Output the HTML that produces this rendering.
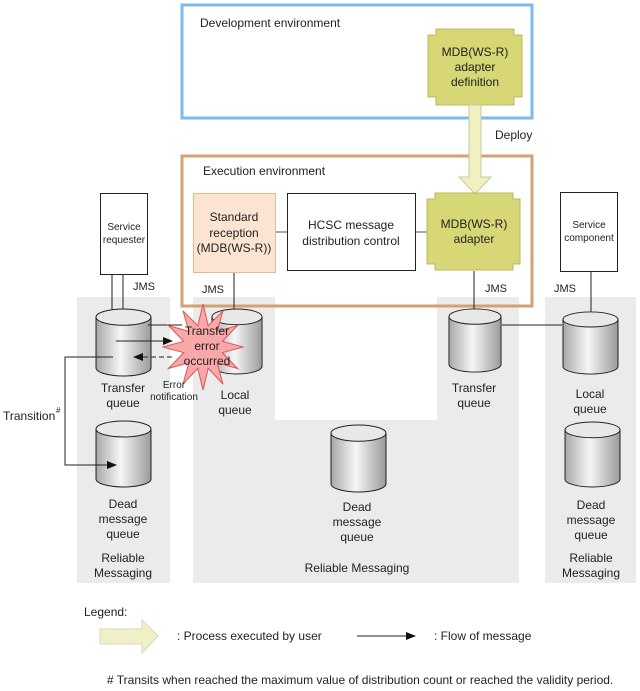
<!DOCTYPE html>
<html><head><meta charset="utf-8"><style>
html,body{margin:0;padding:0;background:#fff}
svg{display:block;font-family:"Liberation Sans",Arial,sans-serif}
text{fill:#222}
</style></head><body>
<svg width="640" height="691" viewBox="0 0 640 691" xmlns="http://www.w3.org/2000/svg">
<defs>
<linearGradient id="cg" x1="0" x2="1" y1="0" y2="0">
<stop offset="0" stop-color="#a8a8a8"/><stop offset="0.45" stop-color="#f6f6f6"/><stop offset="1" stop-color="#9a9a9a"/>
</linearGradient>
<marker id="ah" markerWidth="10" markerHeight="8" refX="9" refY="4" orient="auto" markerUnits="userSpaceOnUse">
<path d="M0,0 L10,4 L0,8 z" fill="#111"/></marker>
<symbol id="cyl" viewBox="0 0 56 68" preserveAspectRatio="none">
<path d="M1,9 L1,59 A27,8 0 0 0 55,59 L55,9" fill="url(#cg)" stroke="#222" stroke-width="1"/>
<ellipse cx="28" cy="9" rx="27" ry="8" fill="#e8e8e8" stroke="#222" stroke-width="1"/>
</symbol>
</defs>

<rect x="77" y="297" width="93" height="286" fill="#ebebeb"/>
<path d="M193,297 H275 V420 H437 V297 H519 V583 H193 Z" fill="#ebebeb"/>
<rect x="545" y="297" width="91" height="286" fill="#ebebeb"/>

<rect x="182" y="5" width="350" height="113" fill="none" stroke="#7db9ee" stroke-width="3"/>
<text x="200" y="27" font-size="12">Development environment</text>
<path d="M436,29 H514 V35 H522 V97 H514 V105 H436 V97 H428 V35 H436 Z" fill="#d7d775" stroke="#b9b962"/>
<text x="475" y="56" font-size="12" text-anchor="middle">MDB(WS-R)</text>
<text x="475" y="71" font-size="12" text-anchor="middle">adapter</text>
<text x="475" y="86" font-size="12" text-anchor="middle">definition</text>

<rect x="182" y="156" width="350" height="150" fill="none" stroke="#d4a272" stroke-width="3"/>
<text x="203" y="175" font-size="12">Execution environment</text>

<path d="M469,105 H481 V177 H491 L475,194 L459,177 H469 Z" fill="#f0f0c0" stroke="#c8c8a0"/>
<text x="495" y="139" font-size="12">Deploy</text>

<rect x="193.5" y="193.5" width="82" height="79" fill="#fbe5d2" stroke="#e2bb94"/>
<text x="234" y="221" font-size="12" text-anchor="middle">Standard</text>
<text x="234" y="237" font-size="12" text-anchor="middle">reception</text>
<text x="234" y="252" font-size="12" text-anchor="middle">(MDB(WS-R))</text>
<line x1="276" y1="232" x2="287" y2="232" stroke="#555"/>
<rect x="287.5" y="193.5" width="128" height="77" fill="#fff" stroke="#222"/>
<text x="351" y="229" font-size="12" text-anchor="middle">HCSC message</text>
<text x="351" y="245" font-size="12" text-anchor="middle">distribution control</text>
<line x1="416" y1="232" x2="428" y2="232" stroke="#555"/>
<path d="M435,193 H513 V199 H520 V264 H513 V270 H435 V264 H427 V199 H435 Z" fill="#d7d775" stroke="#b9b962"/>
<text x="474" y="228" font-size="12" text-anchor="middle">MDB(WS-R)</text>
<text x="474" y="243" font-size="12" text-anchor="middle">adapter</text>

<rect x="100.5" y="193.5" width="47" height="81" fill="#fff" stroke="#222"/>
<text x="124" y="230" font-size="10" text-anchor="middle">Service</text>
<text x="124" y="243" font-size="10" text-anchor="middle">requester</text>
<rect x="560.5" y="192.5" width="57" height="79" fill="#fff" stroke="#222"/>
<text x="589" y="228" font-size="10" text-anchor="middle">Service</text>
<text x="589" y="241" font-size="10" text-anchor="middle">component</text>

<line x1="112" y1="275" x2="112" y2="332" stroke="#222" marker-end="url(#ah)"/>
<line x1="123" y1="275" x2="123" y2="310" stroke="#222"/>
<text x="133" y="290" font-size="11">JMS</text>
<line x1="234" y1="273" x2="234" y2="310" stroke="#222"/>
<text x="202" y="293" font-size="11">JMS</text>
<line x1="474" y1="271" x2="474" y2="310" stroke="#222"/>
<text x="485" y="292" font-size="11">JMS</text>
<line x1="591" y1="272" x2="591" y2="314" stroke="#222"/>
<text x="554" y="292" font-size="11">JMS</text>

<use href="#cyl" x="95" y="308" width="57" height="69"/>
<use href="#cyl" x="211" y="308" width="52" height="67"/>
<use href="#cyl" x="448" y="308" width="54" height="65"/>
<use href="#cyl" x="562" y="311" width="57" height="64"/>
<use href="#cyl" x="95" y="420" width="57" height="68"/>
<use href="#cyl" x="330" y="424" width="57" height="69"/>
<use href="#cyl" x="564" y="421" width="57" height="67"/>

<line x1="502" y1="325" x2="562" y2="325" stroke="#222"/>

<line x1="148" y1="325" x2="182" y2="325" stroke="#222"/>
<polygon points="203,304 208.2,325.7 223,310.8 217.1,331.4 237.6,325.5 222.3,341.3 243,347 222.3,352.7 237.6,368.5 217.1,362.6 223,384.2 208.2,368.3 203,390 197.8,368.3 183,384.2 188.9,362.6 168.4,368.5 183.7,352.7 163,347 183.7,341.3 168.4,325.5 188.9,331.4 183,310.8 197.8,325.7" fill="#f8a8a8" stroke="#d55"/>

<line x1="116" y1="341" x2="172" y2="341" stroke="#222" marker-end="url(#ah)"/>
<line x1="172" y1="357" x2="134" y2="357" stroke="#222" stroke-dasharray="5,3" marker-end="url(#ah)"/>
<text x="207" y="335" font-size="12" text-anchor="middle">Transfer</text>
<text x="207" y="350" font-size="12" text-anchor="middle">error</text>
<text x="207" y="365" font-size="12" text-anchor="middle">occurred</text>
<text x="174" y="388" font-size="10" text-anchor="middle">Error</text>
<text x="174" y="400" font-size="10" text-anchor="middle">notification</text>

<text x="123" y="392" font-size="12" text-anchor="middle">Transfer</text>
<text x="123" y="407" font-size="12" text-anchor="middle">queue</text>
<text x="235" y="399" font-size="12" text-anchor="middle">Local</text>
<text x="235" y="414" font-size="12" text-anchor="middle">queue</text>
<text x="474" y="392" font-size="12" text-anchor="middle">Transfer</text>
<text x="474" y="407" font-size="12" text-anchor="middle">queue</text>
<text x="590" y="398" font-size="12" text-anchor="middle">Local</text>
<text x="590" y="413" font-size="12" text-anchor="middle">queue</text>

<polyline points="113,357 65,357 65,465 116,465" fill="none" stroke="#222" marker-end="url(#ah)"/>
<text x="3" y="420" font-size="12">Transition</text>
<text x="56" y="413" font-size="8">#</text>

<text x="123" y="508" font-size="12" text-anchor="middle">Dead</text>
<text x="123" y="523" font-size="12" text-anchor="middle">message</text>
<text x="123" y="538" font-size="12" text-anchor="middle">queue</text>
<text x="123" y="562" font-size="12" text-anchor="middle">Reliable</text>
<text x="123" y="577" font-size="12" text-anchor="middle">Messaging</text>
<text x="357" y="511" font-size="12" text-anchor="middle">Dead</text>
<text x="357" y="526" font-size="12" text-anchor="middle">message</text>
<text x="357" y="541" font-size="12" text-anchor="middle">queue</text>
<text x="357" y="572" font-size="12" text-anchor="middle">Reliable Messaging</text>
<text x="591" y="509" font-size="12" text-anchor="middle">Dead</text>
<text x="591" y="524" font-size="12" text-anchor="middle">message</text>
<text x="591" y="539" font-size="12" text-anchor="middle">queue</text>
<text x="591" y="562" font-size="12" text-anchor="middle">Reliable</text>
<text x="591" y="577" font-size="12" text-anchor="middle">Messaging</text>

<text x="84" y="616" font-size="12">Legend:</text>
<path d="M100,629 H142 V620 L158,636 L142,653 V644 H100 Z" fill="#f0f0c8" stroke="#d8d8b8"/>
<text x="177" y="640" font-size="12">: Process executed by user</text>
<line x1="357" y1="636" x2="415" y2="636" stroke="#222" marker-end="url(#ah)"/>
<text x="434" y="640" font-size="12">: Flow of message</text>
<text x="107" y="684" font-size="12"># Transits when reached the maximum value of distribution count or reached the validity period.</text>
</svg>
</body></html>
